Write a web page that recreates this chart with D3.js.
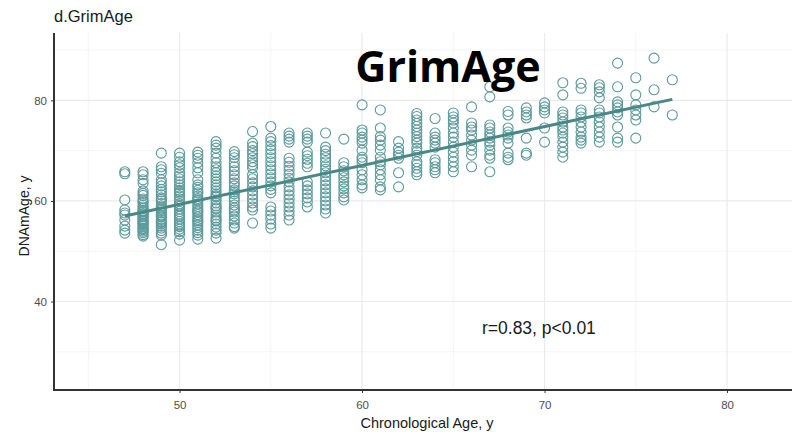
<!DOCTYPE html>
<html>
<head>
<meta charset="utf-8">
<script src="https://cdn.jsdelivr.net/npm/d3@7"></script>
<style>
  body { margin: 0; background: #fff; }
  svg { display: block; font-family: "Liberation Sans", Arial, sans-serif; }
</style>
</head>
<body>
<div id="chart"></div>
<script>
// Chronological age columns and DNAm GrimAge readings for each one
const ages = [47, 48, 49, 50, 51, 52, 53, 54, 55, 56, 57, 58, 59, 60, 61, 62,
  63, 64, 65, 66, 67, 68, 69, 70, 71, 72, 73, 74, 75, 76, 77];

const dnamByAge = [
  [65.8, 65.4, 60.2, 58.2, 57.6, 57.2, 56.2, 55.0, 54.2, 53.6],
  [65.8, 65.2, 64.2, 63.5, 62.0, 61.5, 61.1, 60.4, 60.0, 59.7, 59.2, 58.8, 58.5, 58.1, 57.8, 57.5, 57.2, 56.9, 56.5, 56.2, 55.9, 55.6, 55.3, 55.0, 54.6, 54.3, 54.0, 53.7, 53.3, 53.0, 57.0, 58.0, 56.0, 55.5, 54.5],
  [69.5, 66.8, 66.2, 65.5, 64.2, 63.6, 63.0, 62.3, 61.8, 61.2, 60.6, 60.0, 59.5, 59.0, 58.6, 58.1, 57.7, 57.2, 56.8, 56.3, 55.9, 55.4, 55.0, 54.6, 54.1, 53.6, 53.2, 51.3, 60.3, 58.4, 57.0, 55.7],
  [69.5, 68.7, 67.8, 67.2, 66.6, 65.6, 65.0, 64.4, 63.8, 63.2, 62.6, 62.1, 61.5, 61.0, 60.4, 59.9, 59.4, 58.9, 58.4, 57.9, 57.4, 56.9, 56.4, 55.9, 55.4, 54.9, 54.4, 53.9, 53.4, 52.2, 59.0, 57.0, 55.0, 61.8],
  [69.7, 69.1, 68.5, 67.6, 66.6, 65.6, 64.2, 63.2, 62.7, 62.1, 61.6, 61.0, 60.5, 60.0, 59.4, 58.9, 58.4, 57.8, 57.3, 56.8, 56.3, 55.7, 55.2, 54.7, 54.2, 53.7, 53.2, 52.4, 60.2, 58.0, 56.0],
  [71.8, 71.1, 70.5, 69.5, 68.5, 67.6, 66.8, 66.2, 65.6, 65.0, 64.4, 63.8, 63.2, 62.6, 62.0, 61.4, 60.8, 60.2, 59.6, 59.0, 58.4, 57.8, 57.2, 56.6, 56.0, 55.4, 54.8, 54.2, 53.6, 52.6, 61.0, 58.6, 56.2],
  [69.8, 69.2, 68.6, 67.6, 66.8, 66.0, 65.2, 64.4, 63.6, 63.0, 62.2, 61.4, 60.6, 60.0, 59.2, 58.6, 57.8, 57.0, 56.2, 55.6, 54.9, 54.6, 61.8, 58.2],
  [73.8, 71.5, 70.8, 70.0, 69.4, 68.6, 67.8, 67.2, 66.6, 65.2, 64.4, 63.6, 62.8, 62.0, 61.2, 60.4, 59.6, 58.8, 58.2, 55.6],
  [74.8, 72.5, 71.8, 71.0, 70.2, 69.4, 68.6, 67.8, 67.0, 66.2, 65.4, 64.6, 63.8, 63.0, 62.3, 61.6, 58.8, 58.0, 57.2, 56.4, 55.4, 54.6],
  [73.5, 72.9, 72.3, 71.7, 68.5, 67.7, 66.9, 66.1, 65.3, 64.5, 63.8, 62.8, 62.0, 61.2, 60.4, 59.6, 58.8, 58.0, 57.2, 56.2],
  [73.5, 72.9, 72.3, 71.7, 69.7, 69.0, 68.3, 67.5, 66.8, 63.8, 63.0, 62.2, 61.4, 60.6, 59.8, 58.8],
  [73.5, 70.7, 70.0, 69.3, 68.6, 67.8, 67.0, 66.3, 65.6, 64.8, 64.0, 63.2, 62.4, 61.6, 60.8, 60.0, 59.2, 58.4, 57.6],
  [72.3, 67.6, 66.8, 66.0, 65.2, 64.6, 63.8, 63.0, 62.4, 61.6, 60.8, 60.2],
  [79.1, 74.1, 73.5, 72.7, 72.1, 71.5, 70.1, 68.7, 68.2, 67.6, 66.2, 65.2, 64.2, 63.2, 62.6],
  [78.1, 74.5, 72.8, 72.1, 71.1, 70.1, 68.7, 67.8, 67.2, 66.2, 65.2, 64.2, 62.8, 62.2],
  [71.8, 70.5, 69.7, 69.1, 68.5, 65.6, 62.8],
  [77.4, 76.8, 76.1, 75.4, 74.8, 74.1, 73.5, 72.8, 72.1, 71.5, 70.5, 69.8, 69.1, 67.8, 67.2, 66.5, 65.8, 65.2],
  [76.4, 73.5, 72.7, 72.1, 71.5, 70.7, 68.2, 67.6, 66.8, 66.2, 65.6],
  [77.5, 76.7, 76.1, 75.5, 74.5, 73.5, 72.7, 71.7, 70.7, 69.7, 68.7, 67.8, 66.8, 65.8],
  [78.7, 75.5, 74.7, 74.1, 73.1, 72.1, 71.1, 70.1, 69.1, 66.8],
  [82.7, 80.7, 75.1, 74.5, 73.7, 73.1, 72.5, 71.7, 71.1, 70.1, 69.1, 68.5, 65.8],
  [77.8, 77.1, 74.5, 73.7, 73.1, 72.5, 71.5, 69.5, 68.7, 68.2],
  [78.5, 77.7, 77.1, 76.5, 72.5, 69.5, 69.1],
  [79.5, 78.7, 78.1, 77.5, 74.5, 71.7],
  [83.5, 81.1, 77.7, 77.1, 76.5, 75.7, 74.7, 74.1, 73.5, 72.7, 71.7, 70.7, 69.7, 68.7],
  [83.4, 82.4, 78.1, 77.5, 76.7, 75.7, 74.7, 73.7, 72.7, 72.1, 71.5],
  [83.1, 82.5, 81.7, 80.5, 78.1, 77.5, 76.7, 75.7, 74.7, 73.7, 72.7, 71.7],
  [87.4, 82.7, 79.7, 79.1, 78.5, 77.7, 77.1, 74.7, 72.5, 71.7],
  [84.5, 81.1, 79.1, 78.1, 77.1, 76.1, 72.5],
  [88.4, 82.1, 78.7],
  [84.1, 77.1]
];

// fitted line ends
const fitAge = [47, 77];
const fitDNAm = [57.0, 80.2];

const xTicks = [50, 60, 70, 80];
const xMinor = [45, 55, 65, 75];
const yTicks = [40, 60, 80];
const yMinor = [30, 50, 70, 90];

const W = 792, H = 432;
const plot = { left: 54, top: 33, bottom: 390, right: 800 };

const x = d3.scaleLinear().domain([43.12, 85.0]).range([plot.left, plot.left + (85.0 - 43.12) * 18.25]);
const y = d3.scaleLinear().domain([22.4, 93.4]).range([plot.bottom, plot.top]);

const svg = d3.select('#chart').append('svg')
  .attr('width', W)
  .attr('height', H);

// grid
const grid = svg.append('g');
grid.selectAll('line.xminor').data(xMinor).join('line')
  .attr('class', 'xminor')
  .attr('x1', d => x(d)).attr('x2', d => x(d))
  .attr('y1', plot.top).attr('y2', plot.bottom)
  .style('stroke', '#f4f4f4').style('stroke-width', 1);
grid.selectAll('line.yminor').data(yMinor).join('line')
  .attr('class', 'yminor')
  .attr('y1', d => y(d)).attr('y2', d => y(d))
  .attr('x1', plot.left).attr('x2', plot.right)
  .style('stroke', '#f4f4f4').style('stroke-width', 1);
grid.selectAll('line.xmajor').data(xTicks).join('line')
  .attr('class', 'xmajor')
  .attr('x1', d => x(d)).attr('x2', d => x(d))
  .attr('y1', plot.top).attr('y2', plot.bottom)
  .style('stroke', '#ebebeb').style('stroke-width', 1.2);
grid.selectAll('line.ymajor').data(yTicks).join('line')
  .attr('class', 'ymajor')
  .attr('y1', d => y(d)).attr('y2', d => y(d))
  .attr('x1', plot.left).attr('x2', plot.right)
  .style('stroke', '#ebebeb').style('stroke-width', 1.2);

// points
const points = [];
ages.forEach((a, i) => dnamByAge[i].forEach(v => points.push({ age: a, dnam: v })));

svg.append('g').selectAll('circle').data(points).join('circle')
  .attr('cx', d => x(d.age))
  .attr('cy', d => y(d.dnam))
  .attr('r', 5)
  .style('fill', 'none')
  .style('stroke', '#5c9a9b')
  .style('stroke-width', 1.1);

// fitted line
const line = d3.line().x(d => x(d[0])).y(d => y(d[1]));
svg.append('path')
  .datum(d3.zip(fitAge, fitDNAm))
  .attr('d', line)
  .style('fill', 'none')
  .style('stroke', '#4a8888')
  .style('stroke-width', 3);

// axes
const xAxis = svg.append('g')
  .attr('transform', `translate(0,${plot.bottom})`)
  .call(d3.axisBottom(x).tickValues(xTicks).tickSize(3).tickPadding(8));
const yAxis = svg.append('g')
  .attr('transform', `translate(${plot.left},0)`)
  .call(d3.axisLeft(y).tickValues(yTicks).tickSize(3).tickPadding(4));

[xAxis, yAxis].forEach(ax => {
  ax.select('.domain').remove();
  ax.selectAll('.tick line').style('stroke', '#333');
  ax.selectAll('.tick text')
    .style('fill', '#4d4d4d')
    .style('font-size', '11.5px')
    .style('font-family', '"Liberation Sans", Arial, sans-serif');
});

svg.append('line')
  .attr('x1', plot.left).attr('x2', plot.left).attr('y1', plot.top).attr('y2', plot.bottom + 1)
  .style('stroke', '#333').style('stroke-width', 2);
svg.append('line')
  .attr('x1', plot.left - 1).attr('x2', plot.right).attr('y1', plot.bottom).attr('y2', plot.bottom)
  .style('stroke', '#333').style('stroke-width', 2);

// texts
svg.append('text')
  .attr('x', 54).attr('y', 22)
  .style('font-size', '16.5px').style('fill', '#1a1a1a')
  .text('d.GrimAge');

svg.append('text')
  .attr('x', 427).attr('y', 428)
  .attr('text-anchor', 'middle')
  .style('font-size', '14.5px').style('fill', '#1a1a1a')
  .text('Chronological Age, y');

svg.append('text')
  .attr('transform', 'translate(29,216) rotate(-90)')
  .attr('text-anchor', 'middle')
  .style('font-size', '14px').style('fill', '#1a1a1a')
  .text('DNAmAge, y');

svg.append('text')
  .attr('x', 448).attr('y', 82)
  .attr('text-anchor', 'middle')
  .style('font-family', '"Open Sans", sans-serif')
  .style('font-weight', 'bold')
  .style('font-size', '43px').style('fill', '#000')
  .text('GrimAge');

svg.append('text')
  .attr('x', 482).attr('y', 334)
  .style('font-size', '17.5px').style('fill', '#1a1a1a')
  .text('r=0.83, p<0.01');
</script>
</body>
</html>
